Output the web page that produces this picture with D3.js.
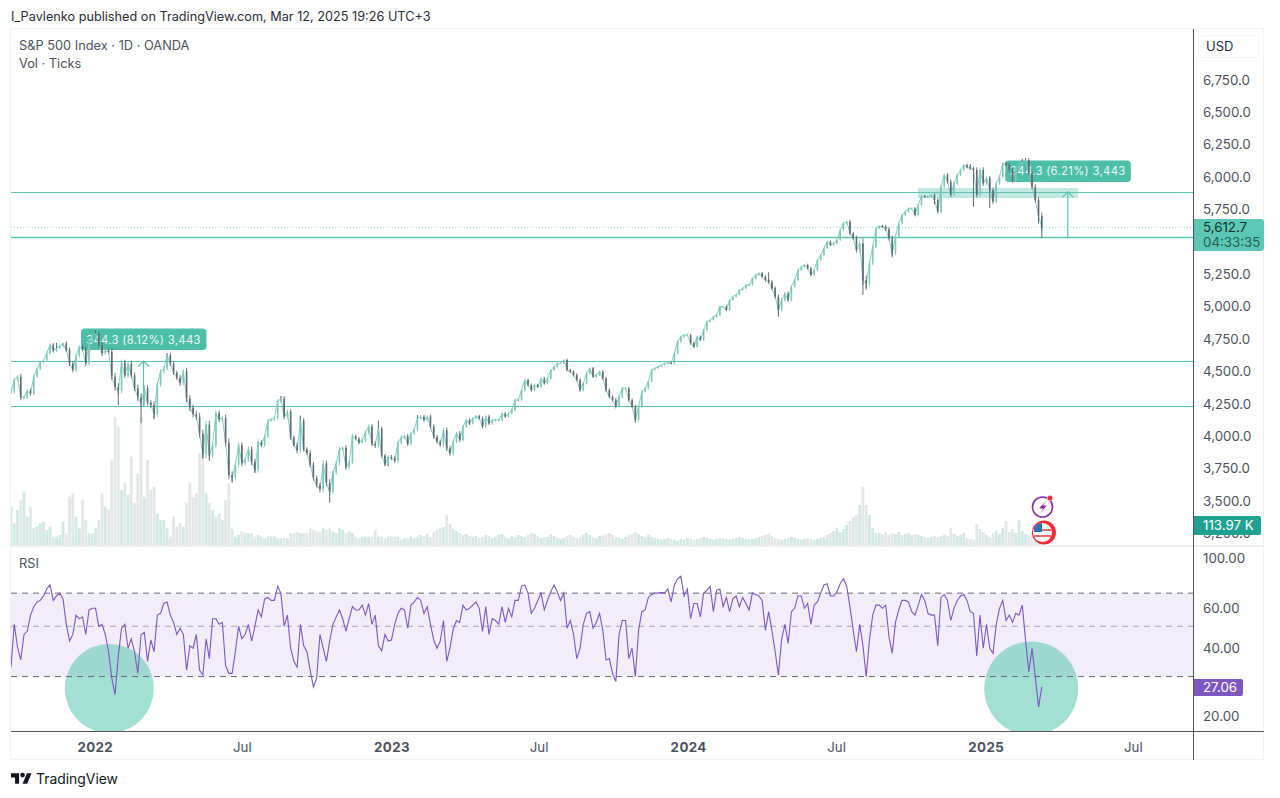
<!DOCTYPE html>
<html><head><meta charset="utf-8">
<script src="https://cdn.jsdelivr.net/npm/d3@7/dist/d3.min.js"></script>
<style>html,body{margin:0;background:#fff}svg{display:block;font-family:Inter,Roboto,sans-serif}</style>
</head><body><svg id="c" width="1280" height="798"></svg>
<script>
const firstBar = "2021-09-20", barDays = 4;
const closes = [
4344,4434,4459,4300,4300,4350,4330,4460,4520,4570,
4585,4640,4705,4660,4680,4695,4715,4665,4560,4510,
4620,4690,4670,4560,4720,4780,4790,4700,4640,4660,
4650,4460,4380,4350,4570,4470,4560,4470,4370,4300,
4260,4370,4260,4240,4170,4400,4500,4520,4625,4560,
4490,4450,4410,4500,4290,4220,4170,4150,4020,3860,
4090,3850,3930,4180,4130,4140,3950,3700,3680,3780,
3930,3790,3820,3900,3800,3740,3955,3930,4000,4120,
4130,4140,4270,4290,4150,4190,3990,3930,3890,4120,
3900,3870,3780,3680,3620,3590,3790,3640,3570,3720,
3790,3900,3910,3760,3800,4000,3980,3950,3970,4030,
4075,3940,3930,4060,3850,3780,3840,3830,3810,3950,
3990,4000,3940,4020,4050,4140,
4151,4125,4151,4074,3996,3958,3932,4048,3906,3868,
3958,4022,3971,4074,4125,4099,4138,4156,4138,4074,
4151,4099,4125,4125,4125,4176,4151,4176,4202,4279,
4279,4356,4434,4395,4356,4395,4382,4446,4408,4446,
4511,4537,4562,4562,4588,4511,4498,4472,4434,4356,
4408,4485,4524,4459,4472,4498,4446,4356,4305,4279,
4228,4305,4369,4369,4279,4228,4125,4228,4344,4369,
4421,4511,4525,4537,4549,4562,4567,4562,4639,4729,
4768,4781,4781,4717,4691,4768,4742,4819,4884,4897,
4922,4935,5000,5000,4974,5051,5077,5090,5128,5141,
5167,5167,5218,5244,5257,5231,5205,5190,5141,5077,
4974,5051,5102,5051,5154,5205,5282,5308,5321,5295,
5244,5282,5360,5398,5450,5501,5475,5488,5514,5591,
5643,5655,5565,5527,5437,5488,5205,5179,5334,5462,5604,
5620,5617,5596,5527,5411,5540,5642,5707,5732,5758,
5758,5707,5784,5853,5848,5848,5861,5822,5732,5925,
6015,5964,5861,5951,6015,6054,6093,6075,6067,6054,
5861,6054,5951,5990,5900,5810,5951,6003,6105,6093,
6054,5977,6067,6093,6118,6131,6028,5925,5822,5700,5612.7];
// Full height of each bar's wick in index points
const barRanges = [
70,60,50,90,60,50,70,55,40,45,
35,50,40,55,35,45,40,60,75,70,
55,45,60,85,50,45,60,70,90,55,
60,110,120,115,75,80,70,95,85,110,
120,100,95,85,120,95,70,65,60,75,
70,60,85,70,110,105,95,100,125,130,
110,120,90,75,80,70,105,130,115,80,
90,85,70,75,90,100,85,55,50,60,
45,50,55,60,80,65,75,55,90,85,
75,60,85,90,65,90,105,90,110,75,
70,65,50,80,60,70,45,55,50,65,
60,70,80,70,60,55,50,60,65,50,
60,50,65,55,45,60,
50,55,45,65,70,55,60,75,80,70,
60,50,65,45,40,50,35,30,40,55,
45,55,45,40,40,35,45,35,40,50,
40,35,50,45,50,40,35,30,45,35,
30,25,30,20,25,45,40,45,50,55,
45,35,30,40,35,30,40,55,50,45,
55,45,40,40,55,50,60,55,35,30,
30,25,20,20,15,20,25,30,35,30,
25,30,45,40,45,30,35,30,25,30,
20,25,35,30,40,30,25,30,25,20,
25,30,25,30,35,40,45,50,55,60,
70,55,50,60,45,40,30,25,30,40,
45,35,25,30,25,20,35,30,25,30,
25,30,55,50,80,90,150,140,90,60,45,
40,45,55,70,85,60,45,35,40,30,
35,45,35,25,30,40,40,50,65,60,
45,60,70,50,40,35,30,40,45,50,
80,70,85,60,70,80,55,45,35,50,
70,85,60,50,45,35,60,75,80,90,100];
const wickLows = [[33,4240],[40,4100],[44,4130],[59,3830],[61,3810],[68,3640],[75,3720],[98,3487],[99,3620],[116,3770],
[192,4104],[236,4922],[262,5090],[263,5130],[271,5380],[284,5790],[296,5770],[301,5760],[316,5640],[317,5530]];
const wickHighs = [[14,4720],[26,4818],[48,4640],[83,4310],[89,4160],[113,4120],[125,4165],[233,5265],[295,6100],[312,6147],[311,6140],[306,6110]];
const volumesK = [
218,124,200,256,304,162,218,95,105,124,
133,86,105,48,48,57,133,67,276,295,
162,95,256,143,67,67,95,143,295,218,
200,485,730,675,314,352,285,504,238,408,
730,275,485,314,333,181,143,143,95,48,
162,105,124,105,238,352,275,295,522,522,
295,238,200,162,181,143,256,352,
95,48,57,76,67,67,67,48,57,48,
38,48,48,48,38,38,38,38,67,67,
76,67,67,67,95,86,76,76,95,86,
95,76,67,95,86,67,76,67,48,38,
48,48,48,48,86,48,48,38,48,48,
48,48,29,38,38,48,38,48,
57,51,63,46,74,86,97,103,171,120,
91,80,68,57,63,51,46,51,40,46,
57,51,40,46,57,63,46,40,51,46,
57,51,46,57,68,63,51,40,46,46,
63,51,40,34,40,51,57,46,40,46,
57,68,57,46,40,51,57,63,68,57,
46,40,34,46,57,63,74,63,51,46,
57,46,40,34,29,34,40,34,29,23,
34,29,40,34,29,34,40,46,40,34,
29,34,40,34,34,29,34,40,46,40,
34,29,34,40,46,51,57,63,51,40,
34,29,34,40,46,40,34,29,34,40,
34,29,34,40,46,57,68,80,97,74,
91,114,137,160,171,228,330,228,171,97,68,
68,63,74,57,68,63,74,57,63,68,
57,63,57,51,46,40,46,51,46,51,
57,51,97,63,51,57,68,40,34,29,
120,91,74,57,46,68,80,63,97,137,
74,91,68,140,80,63,57,74,60,80,113.97];
const rsiValues = [
33,51,40.5,35.5,46,47.5,56,61,64,65,
68,73,76,65,68,70,66,51,43,46,
56,54,55,46,59,60,60,50,51,46,
38.6,29.5,25,37,49,51,40,44,38.6,31,
46,47,35,43.5,38.6,56,57,63,64,56,
52,46,49,46,32,41,40,46,32,30.5,
44,36,54,54,51,52,33.5,31,31,38.6,
50,44,46,51,43,50,59,55,66,67,
65,65,75,70,50,56,40,35,33,51,
41,38.6,32,27,29.5,46,40,35,43,51,
55,59,54,47.5,54,61,59,59,62,56,
63,51,56,41,39,46,43,43.5,51,57,
60,59,49,62,64,67,
65,57,61,51,43.5,40,43,53,35,40,
48.5,53,52,62,59,60,62,64,60,47.5,
61,46,54,53,51,61,52,60,55,65,
65,75,76,70,57,60,65,70,59,65,
71,76,71,65,70,49,53,46,36,40,
51,57,58,49,52,57,48,35.5,36,31,
28.5,46,53,53,36,40,30,48,58,59,
67,69,70,70,70.5,70,73,64,76,81,
83,68,73,54,63,63,55,70,72,75,
58,72,73,61,67,58,66,68,61,67,
63,59,70,69,68,65,48,58,48,38.6,
30.5,44,51,42,58,60,68,68,60,63,
51,62,64,70,76,77,68,68,71,77,
81,75,61,48,38.6,51,
41,30,43.5,56,62,62,60,62,45,38,
52,59,65,65,64,58,56,62,69,65,
57,56,56,41,67,69,65,53,60,65,
68,69,65,58,57,37,56,40,51,40,
38,51,60,65,53,56,52,57,56,62,
43.5,31.5,40,30,22,27.06];
const priceTicks = [6750,6500,6250,6000,5750,5250,5000,4750,4500,4250,4000,3750,3500,3250];
const rsiTicks = [100,60,40,20];
const rsiLevels = [70,50,30];
const timeTicks = ["2022-01-01","2022-07-01","2023-01-01","2023-07-01","2024-01-01","2024-07-01","2025-01-01","2025-07-01"];
const priceLevels = [5885,5537,4580,4233];
const measures = [
 {text:"344.3 (8.12%) 3,443", date:"2022-03-02", from:4233, to:4580},
 {text:"344.3 (6.21%) 3,443", date:"2025-04-12", from:5537, to:5885}];
const circles = [{date:"2022-01-19", rsi:26.6, r:44.5},{date:"2025-02-26", rsi:26.6, r:47}];

const svg = d3.select("#c");
const utc = s => new Date(s+"T00:00:00Z");
const x = d3.scaleUtc().domain([utc("2021-09-20"),utc("2025-09-13")]).range([11,1193]);
const yP = d3.scaleLinear().domain([6000,3250]).range([177,533.4]);
const yV = d3.scaleLinear().domain([0,741]).range([545,415]);
const yR = d3.scaleLog().domain([100,20]).range([558,716.5]);
const bars = closes.map((c,i)=>({i,date:d3.utcDay.offset(utc(firstBar),i*barDays),c,o:i?closes[i-1]:c,v:volumesK[i],r:rsiValues[i],w:barRanges[i]}));
const UP="#7cc9bc", DOWN="#5f6a74", TEAL="#5cc4b1", LAB="#4c525e";

// frame
svg.append("text").attr("x",11).attr("y",21).attr("font-size",12.7).attr("fill","#2a2e39").text("I_Pavlenko published on TradingView.com, Mar 12, 2025 19:26 UTC+3");
svg.append("rect").attr("x",10.5).attr("y",28.5).attr("width",1253).attr("height",731).attr("fill","#fff").attr("stroke","#f0f3fa");

const defs=svg.append("defs");
defs.append("clipPath").attr("id","p1").append("rect").attr("x",11).attr("y",29).attr("width",1182).attr("height",516);
defs.append("clipPath").attr("id","p2").append("rect").attr("x",11).attr("y",547).attr("width",1182).attr("height",184);

const g1=svg.append("g").attr("clip-path","url(#p1)");
const g2=svg.append("g").attr("clip-path","url(#p2)");

// volume
g1.selectAll("rect.v").data(bars).join("rect").attr("class","v")
 .attr("x",d=>x(d.date)-1.4).attr("width",2.8).attr("y",d=>yV(d.v)).attr("height",d=>yV(0)-yV(d.v))
 .attr("fill",d=>d.c>=d.o?"#d2e8e4":"#e4e7e8");

// levels, dotted last price
g1.selectAll("line.l").data(priceLevels).join("line").attr("class","l")
 .attr("x1",11).attr("x2",1193).attr("y1",d=>Math.round(yP(d))+.5).attr("y2",d=>Math.round(yP(d))+.5)
 .attr("stroke",TEAL).attr("stroke-width",(d,i)=>i==1?1.6:1.2);
g1.append("line").attr("x1",11).attr("x2",1193).attr("y1",yP(5612.7)).attr("y2",yP(5612.7)).attr("stroke",TEAL).attr("stroke-opacity",.7).attr("stroke-dasharray","1 2");

// zone
g1.append("rect").attr("x",918).attr("width",160).attr("y",188).attr("height",10).attr("fill",TEAL).attr("fill-opacity",.38);

// measure tools
measures.forEach((m,k)=>{
  const mx=x(utc(m.date));
  g1.append("line").attr("x1",mx).attr("x2",mx).attr("y1",yP(m.from)).attr("y2",yP(m.to)).attr("stroke",TEAL).attr("stroke-width",1.2);
  g1.append("path").attr("d",`M${mx-5.5},${yP(m.to)+5.5}L${mx},${yP(m.to)}L${mx+5.5},${yP(m.to)+5.5}`).attr("fill","none").attr("stroke",TEAL).attr("stroke-width",1.2);
  const ly=yP(m.to)-(k?21:22);
  g1.append("rect").attr("x",mx-62.5).attr("y",ly-10.5).attr("width",125.5).attr("height",21.5).attr("rx",3.5).attr("fill","#4dbfa8");
  g1.append("text").attr("x",mx).attr("y",ly+4.5).attr("text-anchor","middle").attr("font-size",11.3).attr("fill","#fff").attr("fill-opacity",.92).attr("letter-spacing",.3).text(m.text);
});

// candles
g1.append("path").datum(bars).attr("d",d3.line().x(d=>x(d.date)).y(d=>yP(d.c))).attr("fill","none").attr("stroke",UP).attr("stroke-width",.9);
g1.selectAll("line.w").data(bars).join("line").attr("class","w")
 .attr("x1",d=>x(d.date)).attr("x2",d=>x(d.date))
 .attr("y1",d=>yP(Math.max(d.o,d.c)+d.w/4)).attr("y2",d=>yP(Math.min(d.o,d.c)-d.w/4))
 .attr("stroke",d=>d.c>=d.o?UP:DOWN).attr("stroke-width",.9);
const wick=(arr)=>g1.selectAll(null).data(arr).join("line")
 .attr("x1",d=>x(bars[d[0]].date)).attr("x2",d=>x(bars[d[0]].date)).attr("y1",d=>yP(d[1]))
 .attr("y2",d=>yP(bars[d[0]].c)).attr("stroke",DOWN).attr("stroke-width",1);
wick(wickLows); wick(wickHighs);
g1.selectAll("rect.c").data(bars).join("rect").attr("class","c")
 .attr("x",d=>x(d.date)-.8).attr("width",1.6)
 .attr("y",d=>yP(Math.max(d.o,d.c))).attr("height",d=>Math.max(1,Math.abs(yP(d.o)-yP(d.c))))
 .attr("fill",d=>d.c>=d.o?UP:DOWN);

// RSI pane
g2.append("rect").attr("x",11).attr("width",1182).attr("y",yR(70)).attr("height",yR(30)-yR(70)).attr("fill","#f1edf9");
g2.selectAll("circle").data(circles).join("circle").attr("cx",d=>x(utc(d.date))).attr("cy",d=>yR(d.rsi)).attr("r",d=>d.r)
 .attr("fill","rgb(88,199,177)").attr("fill-opacity",.55);
g2.selectAll("line").data(rsiLevels).join("line").attr("x1",11).attr("x2",1193)
 .attr("y1",d=>yR(d)).attr("y2",d=>yR(d)).attr("stroke",d=>d==50?"#a9a6b3":"#6a6874").attr("stroke-width",1).attr("stroke-dasharray","6 5");
g2.append("path").datum(bars).attr("d",d3.line().x(d=>x(d.date)).y(d=>yR(d.r))).attr("fill","none").attr("stroke","#7e57c2").attr("stroke-width",1.1);

// separators
svg.append("rect").attr("x",11).attr("y",545).attr("width",1253).attr("height",2).attr("fill","#eef0f4");
svg.append("line").attr("x1",11).attr("x2",1264).attr("y1",731.5).attr("y2",731.5).attr("stroke","#50535e");
svg.append("line").attr("x1",1193.5).attr("x2",1193.5).attr("y1",29).attr("y2",760).attr("stroke","#50535e");

// axes
const styleAxis=g=>{g.select(".domain").remove();g.selectAll(".tick line").remove();
  g.selectAll("text").attr("fill",LAB).attr("font-size",13.3).attr("font-family","Inter,Roboto,sans-serif");};
svg.append("g").attr("transform","translate(1193,0)").call(d3.axisRight(yP).tickValues(priceTicks).tickFormat(d3.format(",.1f")).tickPadding(4)).call(styleAxis);
svg.append("g").attr("transform","translate(1193,0)").call(d3.axisRight(yR).tickValues(rsiTicks).tickFormat(d3.format(".2f")).tickPadding(4)).call(styleAxis);
svg.append("g").attr("transform","translate(0,731)").call(d3.axisBottom(x).tickValues(timeTicks.map(utc))
  .tickFormat(d=>d.getUTCMonth()==0?d.getUTCFullYear():"Jul").tickPadding(6)).call(styleAxis)
  .selectAll("text").attr("font-weight",d=>d.getUTCMonth()==0?700:400).attr("letter-spacing",d=>d.getUTCMonth()==0?.4:0);

// axis badges
svg.append("rect").attr("x",1198.5).attr("y",35.5).attr("width",60).attr("height",22).attr("rx",3).attr("fill","#fff").attr("stroke","#f5f6f9");
svg.append("text").attr("x",1206).attr("y",51).attr("font-size",13).attr("fill","#2a2e39").text("USD");
svg.append("path").attr("d","M1194,219H1261a3,3 0 0 1 3,3V248a3,3 0 0 1 -3,3H1194Z").attr("fill","#5cc7b4");
svg.append("text").attr("x",1203).attr("y",232).attr("font-size",13.3).attr("fill","#11312c").text("5,612.7");
svg.append("text").attr("x",1203).attr("y",247).attr("font-size",13.3).attr("fill","#1f5f55").text("04:33:35");
svg.append("path").attr("d","M1194,516H1259a2,2 0 0 1 2,2V533a2,2 0 0 1 -2,2H1194Z").attr("fill","#1fa294");
svg.append("text").attr("x",1203).attr("y",530).attr("font-size",13.3).attr("fill","#fff").text("113.97 K");
svg.append("path").attr("d","M1194,679H1241a2,2 0 0 1 2,2V694a2,2 0 0 1 -2,2H1194Z").attr("fill","#7e57c2");
svg.append("text").attr("x",1203).attr("y",692).attr("font-size",13.3).attr("fill","#fff").text("27.06");

// legends
[["S&P 500 Index · 1D · OANDA",50],["Vol · Ticks",68],["RSI",568]].forEach(([t,y])=>
 svg.append("text").attr("x",19).attr("y",y).attr("font-size",12.8).attr("fill","#4c525e").text(t));

// event icons
const ic=svg.append("g");
ic.append("circle").attr("cx",1042.5).attr("cy",507).attr("r",10).attr("fill","#fff").attr("stroke","#8e2ba8").attr("stroke-width",1.6);
ic.append("path").attr("d","M1046,501L1039,508.5H1043L1040,513L1047,505.5H1043Z").attr("fill","#8e2ba8");
ic.append("circle").attr("cx",1050).attr("cy",498).attr("r",2.8).attr("fill","#e5293a").attr("stroke","#fff").attr("stroke-width",.6);
ic.append("circle").attr("cx",1044).attr("cy",532.5).attr("r",12).attr("fill","#ee2e35");
ic.append("circle").attr("cx",1042.5).attr("cy",532.5).attr("r",9.5).attr("fill","#fff");
ic.append("path").attr("d","M1034,532V528a9.5,9.5 0 0 1 8,-5V532Z").attr("fill","#2f6fb5");
ic.append("rect").attr("x",1042).attr("y",529).attr("width",9.5).attr("height",2).attr("fill","#e66");
ic.append("rect").attr("x",1034).attr("y",535).attr("width",17).attr("height",2).attr("fill","#e66");

// logo
const logo=svg.append("g").attr("transform","translate(11,771) scale(0.58)").attr("fill","#131722");
logo.append("path").attr("d","M14 22H7V11H0V4h14v18zM28 22h-8l7.5-18h8L28 22z");
logo.append("circle").attr("cx",20).attr("cy",7).attr("r",4);
svg.append("text").attr("x",36).attr("y",784).attr("font-size",13.9).attr("font-weight",400).attr("fill","#131722").text("TradingView");
</script></body></html>
